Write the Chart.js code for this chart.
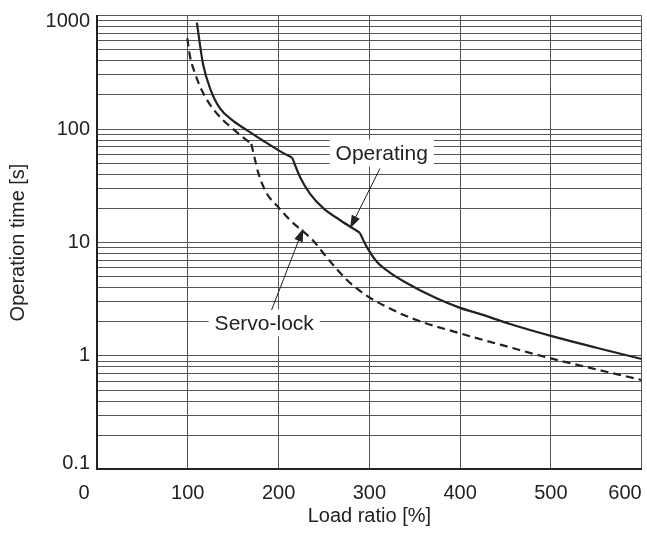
<!DOCTYPE html>
<html>
<head>
<meta charset="utf-8">
<title>Operation time vs load ratio</title>
<script src="https://cdn.jsdelivr.net/npm/chart.js@4.4.1/dist/chart.umd.min.js"></script>
<style>
    html, body { margin: 0; padding: 0; background: #fff; }
</style>
</head>
<body>
<canvas id="chart" width="647" height="535"></canvas>
<script>
// Curves: load ratio [%] -> operation time [s]
let opLoad = [110, 113.5, 117, 124.5, 135.5, 150, 165, 183, 201.5, 215, 223.5, 234.5, 249.5, 267.5, 289.5, 297, 308, 323, 341, 374, 400, 426, 455, 500, 550, 600];
let opTime = [870, 550, 367, 229, 152, 118, 98, 79, 64, 56, 38, 27, 20, 15.8, 12.2, 9.2, 6.8, 5.4, 4.4, 3.22, 2.65, 2.29, 1.91, 1.5, 1.18, 0.94];
let opKinks = [9, 14]; // corners in the curve (index into the arrays)

let svLoad = [99.5, 102.5, 108, 113.5, 122.5, 133.5, 144.5, 157.5, 170, 174, 177.5, 186.5, 200, 212.5, 238, 253, 275, 297, 326, 352, 400, 455, 500, 550, 600];
let svTime = [630, 435, 310, 237, 174, 133, 109, 89, 74, 54, 41.5, 27.5, 20.4, 15.8, 10.4, 7.4, 4.7, 3.4, 2.54, 2.07, 1.58, 1.19, 0.95, 0.76, 0.613];
let svKinks = [8];

// axes
let xTicks = [0, 100, 200, 300, 400, 500, 600];
let yDecades = [0.1, 1, 10, 100, 1000];

// callouts (data coords): label centre, leader start, arrow tip
let noteText = ["Operating", "Servo-lock"];
let noteAt = [[313.6, 61.5], [184.2, 1.96]];
let noteFrom = [[311.7, 45], [192.3, 2.54]];
let noteTo = [[278.7, 13.3], [227.2, 13.3]];

const FONT = "'Liberation Sans', Arial, Helvetica, sans-serif";
const INK = "#222";

// small shifts of the end labels, as in the figure
let labelNudge = {
    x: { "0": [-18.6, 0] },
    y: { "1000": [0, 6], "0.1": [0, -6] }
};

// split a curve at its corners so each piece is smoothed on its own
function pieces(xs, ys, kinks) {
    let cuts = [0].concat(kinks, [xs.length - 1]);
    let out = [];
    for (let i = 0; i < cuts.length - 1; i++) {
        let pts = [];
        for (let j = cuts[i]; j <= cuts[i + 1]; j++) {
            pts.push({ x: xs[j], y: ys[j] });
        }
        out.push(pts);
    }
    return out;
}

let datasets = [];
pieces(opLoad, opTime, opKinks).forEach(p => datasets.push({
    data: p,
    borderColor: INK,
    borderWidth: 2.2,
    pointRadius: 0,
    cubicInterpolationMode: "monotone",
    fill: false
}));
pieces(svLoad, svTime, svKinks).forEach(p => datasets.push({
    data: p,
    borderColor: INK,
    borderWidth: 2.2,
    borderDash: [8, 5],
    pointRadius: 0,
    cubicInterpolationMode: "monotone",
    fill: false
}));

let nudgePlugin = {
    id: "nudge",
    beforeDraw(chart) {
        for (const id of ["x", "y"]) {
            chart.scales[id].getLabelItems(chart.chartArea).forEach(it => {
                let n = labelNudge[id][it.label];
                if (n && !it._nudged) {
                    it.options.translation[0] += n[0];
                    it.options.translation[1] += n[1];
                    it._nudged = true;
                }
            });
        }
    }
};

let notePlugin = {
    id: "notes",
    afterDatasetsDraw(chart) {
        let ctx = chart.ctx;
        let sx = chart.scales.x, sy = chart.scales.y;
        ctx.save();
        ctx.font = "21px " + FONT;
        noteText.forEach((txt, i) => {
            let cx = sx.getPixelForValue(noteAt[i][0]);
            let cy = sy.getPixelForValue(noteAt[i][1]);
            let w = ctx.measureText(txt).width + 12, h = 27;

            // white box behind the label
            ctx.fillStyle = "#fff";
            ctx.fillRect(cx - w / 2, cy - h / 2, w, h);
            ctx.fillStyle = INK;
            ctx.textAlign = "center";
            ctx.textBaseline = "middle";
            ctx.fillText(txt, cx, cy + 1);

            // leader line with arrow head
            let x0 = sx.getPixelForValue(noteFrom[i][0]), y0 = sy.getPixelForValue(noteFrom[i][1]);
            let x1 = sx.getPixelForValue(noteTo[i][0]), y1 = sy.getPixelForValue(noteTo[i][1]);
            let a = Math.atan2(y1 - y0, x1 - x0);
            let c = Math.cos(a), s = Math.sin(a);
            ctx.strokeStyle = INK;
            ctx.lineWidth = 1;
            ctx.beginPath();
            ctx.moveTo(x0, y0);
            ctx.lineTo(x1 - 10 * c, y1 - 10 * s);
            ctx.stroke();
            ctx.beginPath();
            ctx.moveTo(x1, y1);
            ctx.lineTo(x1 - 13 * c + 4.5 * s, y1 - 13 * s - 4.5 * c);
            ctx.lineTo(x1 - 13 * c - 4.5 * s, y1 - 13 * s + 4.5 * c);
            ctx.closePath();
            ctx.fill();
        });
        ctx.restore();
    }
};

let ctx = document.getElementById("chart").getContext("2d");
let chart = new Chart(ctx, {
    type: "line",
    data: { datasets: datasets },
    options: {
        responsive: false,
        animation: false,
        events: [],
        layout: { padding: { top: 15.7, right: 5.3, bottom: 0, left: 0 } },
        plugins: {
            legend: { display: false },
            tooltip: { enabled: false }
        },
        scales: {
            x: {
                type: "linear",
                min: 0,
                max: 600,
                afterBuildTicks: scale => { scale.ticks = xTicks.map(v => ({ value: v })); },
                afterFit: scale => { scale.height = 65.7; scale.paddingLeft = 0; scale.paddingRight = 0; },
                ticks: {
                    autoSkip: false,
                    align: "inner",
                    padding: 12,
                    color: INK,
                    font: { family: FONT, size: 20 },
                    maxRotation: 0
                },
                grid: { color: "#555", lineWidth: 1, drawTicks: false },
                border: { color: INK, width: 2 },
                title: {
                    display: true,
                    text: "Load ratio [%]",
                    color: INK,
                    font: { family: FONT, size: 20 },
                    padding: { top: 0, bottom: 7 }
                }
            },
            y: {
                type: "logarithmic",
                min: 0.1,
                max: 1000,
                afterBuildTicks: scale => {
                    let t = [];
                    for (let d = 0; d < yDecades.length - 1; d++) {
                        for (let k = 1; k < 10; k++) {
                            t.push({ value: +(yDecades[d] * k).toPrecision(3) });
                        }
                    }
                    t.push({ value: yDecades[yDecades.length - 1] });
                    scale.ticks = t;
                },
                afterFit: scale => { scale.width = 97; scale.paddingTop = 0; scale.paddingBottom = 0; },
                ticks: {
                    autoSkip: false,
                    padding: 7,
                    color: INK,
                    font: { family: FONT, size: 20 },
                    callback: v => yDecades.includes(v) ? String(v) : ""
                },
                grid: { color: "#555", lineWidth: 1, drawTicks: false },
                border: { color: INK, width: 2 },
                title: {
                    display: true,
                    text: "Operation time [s]",
                    color: INK,
                    font: { family: FONT, size: 20 },
                    padding: { top: 6, bottom: 0 }
                }
            }
        }
    },
    plugins: [nudgePlugin, notePlugin]
});
</script>
</body>
</html>
